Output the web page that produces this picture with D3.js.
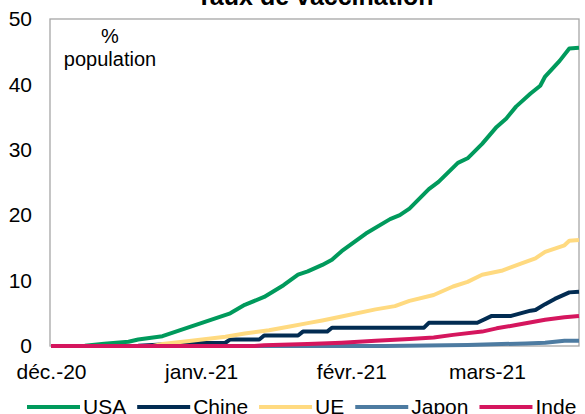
<!DOCTYPE html>
<html>
<head>
<meta charset="utf-8">
<script src="https://cdn.jsdelivr.net/npm/d3@7"></script>
<style>
  html, body { margin: 0; padding: 0; background: #fff; }
  svg { display: block; }
  text { font-family: "Liberation Sans", Arial, sans-serif; fill: #000; }
</style>
</head>
<body>
<svg id="chart" width="585" height="414"></svg>
<script>
// ---- Data ----
const title = "Taux de vaccination";
const unitLines = ["%", "population"];

const yTicks = [0, 10, 20, 30, 40, 50];
const xTickDates = ["2020-12-01", "2021-01-01", "2021-02-01", "2021-03-01"];
const xTickLabels = ["déc.-20", "janv.-21", "févr.-21", "mars-21"];

const seriesNames = ["USA", "Chine", "UE", "Japon", "Inde"];

const usaDates = ["2020-12-01","2020-12-08","2020-12-12","2020-12-17","2020-12-19","2020-12-24","2020-12-30","2021-01-03","2021-01-07","2021-01-10","2021-01-14","2021-01-18","2021-01-21","2021-01-23","2021-01-26","2021-01-28","2021-01-30","2021-02-04","2021-02-09","2021-02-11","2021-02-13","2021-02-17","2021-02-19","2021-02-23","2021-02-25","2021-02-28","2021-03-03","2021-03-05","2021-03-07","2021-03-10","2021-03-12","2021-03-13","2021-03-16","2021-03-18","2021-03-20"];
const usaValues = [0,0.05,0.35,0.66,1.0,1.5,3.0,4.0,5.0,6.3,7.5,9.3,10.9,11.4,12.4,13.2,14.5,17.2,19.4,20.0,21.0,24.0,25.1,28.0,28.7,30.9,33.5,34.8,36.6,38.6,39.8,41.2,43.6,45.5,45.6];

const chineDates = ["2020-12-01","2020-12-19","2020-12-26","2020-12-30","2021-01-06","2021-01-07","2021-01-13","2021-01-14","2021-01-21","2021-01-22","2021-01-27","2021-01-28","2021-02-16","2021-02-17","2021-02-27","2021-03-02","2021-03-06","2021-03-10","2021-03-11","2021-03-13","2021-03-15","2021-03-18","2021-03-20"];
const chineValues = [0,0.05,0.3,0.45,0.5,1.0,1.0,1.6,1.6,2.2,2.2,2.8,2.8,3.55,3.55,4.6,4.6,5.4,5.5,6.4,7.2,8.2,8.3];

const ueDates = ["2020-12-01","2020-12-22","2020-12-24","2020-12-30","2021-01-06","2021-01-10","2021-01-15","2021-01-19","2021-01-23","2021-01-26","2021-01-30","2021-02-06","2021-02-10","2021-02-13","2021-02-18","2021-02-22","2021-02-25","2021-02-28","2021-03-04","2021-03-08","2021-03-11","2021-03-13","2021-03-17","2021-03-18","2021-03-20"];
const ueValues = [0,0,0.3,0.8,1.4,1.9,2.4,2.95,3.5,3.9,4.5,5.6,6.1,6.9,7.8,9.1,9.8,10.9,11.5,12.6,13.4,14.4,15.4,16.1,16.2];

const japonDates = ["2020-12-01","2021-02-08","2021-02-25","2021-03-09","2021-03-13","2021-03-17","2021-03-20"];
const japonValues = [0,0,0.15,0.4,0.5,0.8,0.8];

const indeDates = ["2020-12-01","2021-01-12","2021-01-14","2021-01-23","2021-01-30","2021-02-06","2021-02-13","2021-02-18","2021-02-22","2021-02-28","2021-03-03","2021-03-07","2021-03-13","2021-03-17","2021-03-20"];
const indeValues = [0,0,0.1,0.3,0.5,0.8,1.07,1.3,1.7,2.2,2.7,3.2,4.0,4.4,4.6];

const seriesColors = ["#009A5C", "#022C52", "#FFDA80", "#4D7BA1", "#D5165E"];

// ---- Build ----
const parse = d3.timeParse("%Y-%m-%d");
const zip = (ds, vs) => ds.map((d, i) => ({ date: parse(d), value: vs[i] }));
const series = [
  zip(usaDates, usaValues),
  zip(chineDates, chineValues),
  zip(ueDates, ueValues),
  zip(japonDates, japonValues),
  zip(indeDates, indeValues)
];

const svg = d3.select("#chart");
const plot = { left: 50, right: 579, top: 19, bottom: 346 };

const x = d3.scaleTime()
  .domain([parse("2020-12-01"), parse("2021-03-20")])
  .range([51, 579]);
const y = d3.scaleLinear().domain([0, 50]).range([plot.bottom, plot.top]);

// frame
svg.append("rect")
  .attr("x", plot.left).attr("y", plot.top)
  .attr("width", plot.right - plot.left).attr("height", plot.bottom - plot.top)
  .attr("fill", "none").attr("stroke", "#A6A6A6").attr("stroke-width", 1.3);

// title (partially cut at top, as in the reference)
svg.append("text")
  .attr("x", 315).attr("y", 5)
  .attr("text-anchor", "middle")
  .style("font-size", "25px").style("font-weight", "bold")
  .text(title);

// y axis
const yAxis = d3.axisLeft(y).tickValues(yTicks).tickSize(0).tickPadding(0).tickFormat(d3.format("d"));
const gy = svg.append("g").attr("transform", "translate(32,0)").call(yAxis);
gy.select(".domain").remove();
gy.selectAll("text").style("font-size", "21px").style("font-family", '"Liberation Sans", Arial, sans-serif').attr("fill", "#000");

// x axis labels
const xAxis = d3.axisBottom(x)
  .tickValues(xTickDates.map(parse))
  .tickSize(0).tickPadding(0)
  .tickFormat((d, i) => xTickLabels[i]);
const gx = svg.append("g").attr("transform", "translate(0,364)").call(xAxis);
gx.select(".domain").remove();
gx.selectAll("text").style("font-size", "21px").style("font-family", '"Liberation Sans", Arial, sans-serif').attr("fill", "#000");

// unit annotation
svg.append("text").attr("x", 110).attr("y", 43).attr("text-anchor", "middle")
  .style("font-size", "20px").text(unitLines[0]);
svg.append("text").attr("x", 110).attr("y", 66).attr("text-anchor", "middle")
  .style("font-size", "20px").text(unitLines[1]);

// lines
const line = d3.line().x(d => x(d.date)).y(d => y(d.value));
svg.append("g").selectAll("path")
  .data(series)
  .join("path")
  .attr("d", line)
  .attr("fill", "none")
  .attr("stroke", (d, i) => seriesColors[i])
  .attr("stroke-width", 4)
  .attr("stroke-linejoin", "round")
  .attr("stroke-linecap", "butt");

// legend
const legend = svg.append("g");
let lx = 27;
const ly = 407;
seriesNames.forEach((name, i) => {
  legend.append("line")
    .attr("x1", lx).attr("x2", lx + 53)
    .attr("y1", ly).attr("y2", ly)
    .attr("stroke", seriesColors[i]).attr("stroke-width", 4);
  const t = legend.append("text")
    .attr("x", lx + 56).attr("y", 414)
    .style("font-size", "21px")
    .text(name);
  lx += 56 + t.node().getComputedTextLength() + 11;
});
</script>
</body>
</html>
